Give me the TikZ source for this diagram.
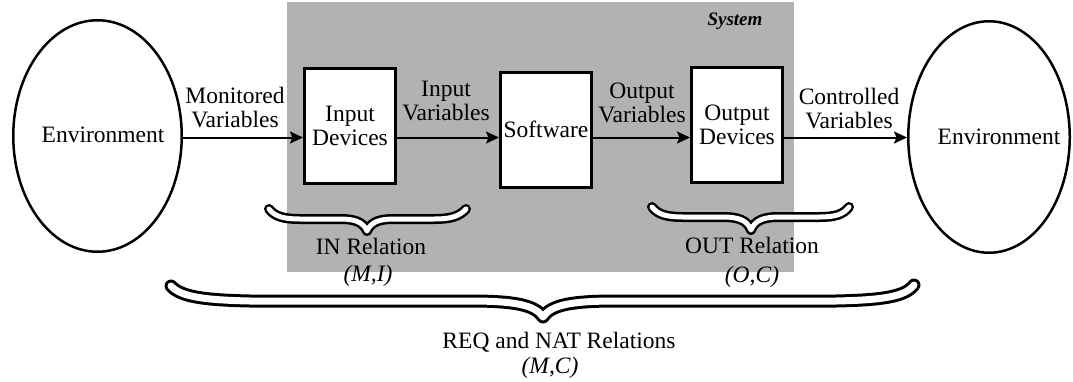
\documentclass[tikz,border=0pt]{standalone}
\usepackage{fontspec}
\setmainfont{Liberation Serif}
\usetikzlibrary{shapes.geometric,arrows.meta}
\definecolor{halftone}{gray}{0.7}
\begin{document}
\begin{tikzpicture}[x=1pt,y=-1pt,
  every node/.style={font=\fontsize{23.5}{24}\selectfont, inner sep=0pt},
  lbl/.style={align=center, anchor=base},
  env/.style={ellipse, draw, line width=2.5pt, minimum width=168.5pt, minimum height=231.5pt},
  unit/.style={rectangle, draw, fill=white, line width=3pt, minimum width=91pt, minimum height=115pt, align=center},
  flow/.style={line width=2pt, -{Stealth[length=13pt,width=12pt,inset=2.5pt]}},
  smallbrace/.style={line width=2.5pt, double=white, double distance=5pt, line cap=round, line join=round},
  bigbrace/.style={line width=3pt, double=white, double distance=7pt, line cap=round, line join=round},
]
\useasboundingbox (0,0) rectangle (1073,381);

% shaded system region
\node[fill=halftone, minimum width=507pt, minimum height=270pt, anchor=north west] (sys) at (287,2) {};
\node[lbl, font=\fontsize{19}{22}\selectfont\bfseries\itshape] (systxt) at (735,25) {System};

% environment on both sides
\node[env] (envL) at (97.5,136) {};
\node[lbl] (envLt) at (103,142) {Environment};
\node[env, minimum width=161.5pt] (envR) at (989,137) {};
\node[lbl] (envRt) at (999,144) {Environment};

% system components
\node[unit] (inp) at (350,126) {Input\\Devices};
\node[unit] (sw) at (546,129.5) {Software};
\node[unit] (outp) at (737,124.5) {Output\\Devices};

% data flow
\coordinate (ay) at (0,137.5);
\draw[flow] (envL.east |- ay) -- (inp.west |- ay);
\draw[flow] (inp.east |- ay) -- (sw.west |- ay);
\draw[flow] (sw.east |- ay) -- (outp.west |- ay);
\draw[flow] (outp.east |- ay) -- (envR.west |- ay);

% multi-line labels: base anchor sits on the last line
\node[lbl] (mv) at (235,127) {Monitored\\Variables};
\node[lbl] (iv) at (446,120) {Input\\Variables};
\node[lbl] (ov) at (642,122) {Output\\Variables};
\node[lbl] (cv) at (849,128) {Controlled\\Variables};

% relation braces
\draw[smallbrace] (269,209) .. controls (275,217) and (285,219) .. (300,219) -- (340,219)
  .. controls (355,219) and (363,222) .. (367,231)
  .. controls (371,222) and (379,219) .. (394,219) -- (434,219)
  .. controls (449,219) and (459,217) .. (466,209);
\draw[smallbrace] (652,207) .. controls (658,215) and (668,217) .. (683,217) -- (723,217)
  .. controls (738,217) and (747,220) .. (751,230)
  .. controls (755,220) and (764,217) .. (779,217) -- (819,217)
  .. controls (834,217) and (843,215) .. (849,207);
\draw[bigbrace] (171,286) .. controls (181,297) and (205,300) .. (250,301) -- (470,301)
  .. controls (515,301) and (535,305) .. (543,317)
  .. controls (551,305) and (571,301) .. (616,301) -- (836,301)
  .. controls (881,300) and (905,297) .. (914,285);

\node[lbl] (inrel) at (371,254) {IN Relation};
\node[lbl] (inpair) at (368,281) {\textit{(M,I)}};
\node[lbl] (outrel) at (752,253) {OUT Relation};
\node[lbl] (outpair) at (752,282) {\textit{(O,C)}};
\node[lbl] (reqrel) at (559,348) {REQ and NAT Relations};
\node[lbl] (reqpair) at (550,373) {\textit{(M,C)}};
\end{tikzpicture}
\end{document}
